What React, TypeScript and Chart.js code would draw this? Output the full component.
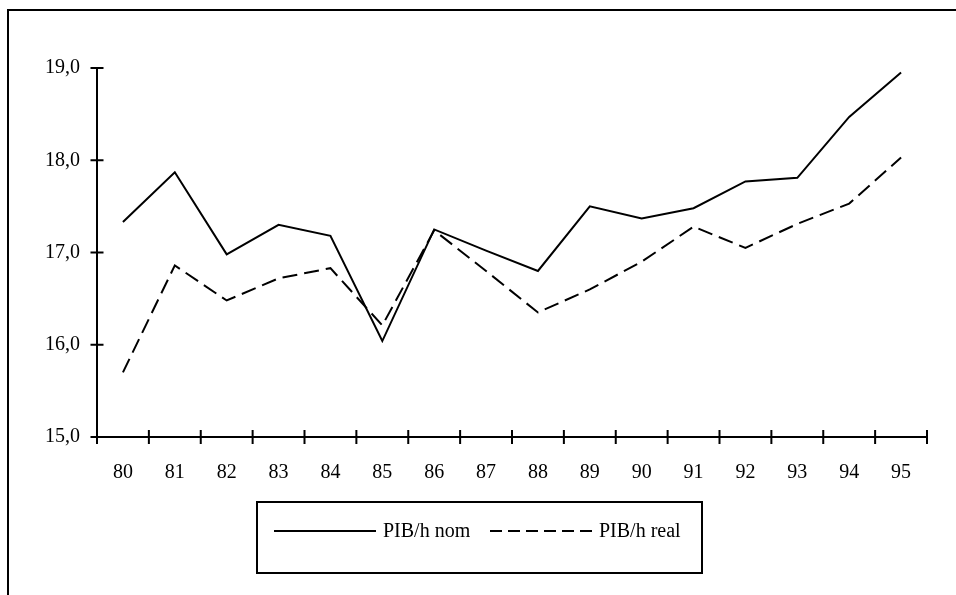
import { useEffect, useRef } from "react";
import { Chart, registerables } from "chart.js";

Chart.register(...registerables);

const years = ["80", "81", "82", "83", "84", "85", "86", "87", "88", "89", "90", "91", "92", "93", "94", "95"];
const pibNom = [17.33, 17.87, 16.98, 17.3, 17.18, 16.04, 17.25, 17.02, 16.8, 17.5, 17.37, 17.48, 17.77, 17.81, 18.47, 18.95];
const pibReal = [15.7, 16.86, 16.48, 16.72, 16.83, 16.21, 17.24, 16.8, 16.35, 16.6, 16.9, 17.28, 17.05, 17.31, 17.53, 18.03];
const yTicks = [15, 16, 17, 18, 19];
const seriesLabels = ["PIB/h nom", "PIB/h real"];

const FONT = '"Liberation Serif", "Times New Roman", serif';

export default function App() {
  const ref = useRef<HTMLCanvasElement | null>(null);

  useEffect(() => {
    if (!ref.current) return;

    const framePlugin = {
      id: "frame",
      beforeDraw(chart: any) {
        const ctx = chart.ctx;
        ctx.save();
        ctx.fillStyle = "#fff";
        ctx.fillRect(0, 0, chart.width, chart.height);
        ctx.strokeStyle = "#000";
        ctx.lineWidth = 2;
        ctx.beginPath();
        ctx.moveTo(7, 10);
        ctx.lineTo(chart.width, 10);
        ctx.moveTo(8, 9);
        ctx.lineTo(8, chart.height);
        ctx.stroke();
        ctx.restore();
      },
    };

    const axesPlugin = {
      id: "axes",
      beforeDatasetsDraw(chart: any) {
        const { ctx, chartArea, scales } = chart;
        const xs = scales.x;
        const ys = scales.y;
        ctx.save();
        ctx.strokeStyle = "#000";
        ctx.lineWidth = 2;
        ctx.beginPath();
        const x0 = chartArea.left;
        const yTop = ys.getPixelForValue(yTicks[yTicks.length - 1]);
        const yBot = ys.getPixelForValue(yTicks[0]);
        ctx.moveTo(x0, yTop);
        ctx.lineTo(x0, yBot);
        yTicks.forEach((v) => {
          const py = ys.getPixelForValue(v);
          ctx.moveTo(x0 - 6.5, py);
          ctx.lineTo(x0 + 6.5, py);
        });
        ctx.moveTo(xs.left, yBot);
        ctx.lineTo(xs.right, yBot);
        const n = years.length;
        for (let k = 0; k <= n; k++) {
          const px = xs.left + (k * xs.width) / n;
          ctx.moveTo(px, yBot - 7);
          ctx.lineTo(px, yBot + 7);
        }
        ctx.stroke();
        ctx.restore();
      },
    };

    const legendPlugin = {
      id: "boxLegend",
      afterDraw(chart: any) {
        const ctx = chart.ctx;
        ctx.save();
        ctx.strokeStyle = "#000";
        ctx.lineWidth = 2;
        ctx.strokeRect(257, 502, 445, 71);
        const ly = 531;
        const starts = [274, 490];
        chart.data.datasets.forEach((ds: any, i: number) => {
          const sx = starts[i];
          ctx.beginPath();
          ctx.setLineDash(ds.borderDash ? [12, 6] : []);
          ctx.lineWidth = 2;
          ctx.moveTo(sx, ly);
          ctx.lineTo(sx + 102, ly);
          ctx.stroke();
          ctx.setLineDash([]);
          ctx.fillStyle = "#000";
          ctx.font = `20px ${FONT}`;
          ctx.textBaseline = "middle";
          ctx.textAlign = "left";
          ctx.fillText(ds.label, sx + 109, ly + 1);
        });
        ctx.restore();
      },
    };

    const chart = new Chart(ref.current, {
      type: "line",
      data: {
        labels: years,
        datasets: [
          {
            label: seriesLabels[0],
            data: pibNom,
            borderColor: "#000",
            borderWidth: 2,
            pointRadius: 0,
            tension: 0,
            fill: false,
          },
          {
            label: seriesLabels[1],
            data: pibReal,
            borderColor: "#000",
            borderWidth: 2,
            borderDash: [15, 7],
            pointRadius: 0,
            tension: 0,
            fill: false,
          },
        ],
      },
      options: {
        animation: false,
        responsive: false,
        devicePixelRatio: 1,
        layout: { padding: { left: 0, top: 68, right: 29, bottom: 0 } },
        plugins: {
          legend: { display: false },
          tooltip: { enabled: false },
        },
        scales: {
          x: {
            type: "category",
            offset: true,
            grid: { display: false, drawTicks: false },
            border: { display: false },
            ticks: {
              color: "#000",
              font: { family: FONT, size: 20 },
              padding: 24,
              autoSkip: false,
              maxRotation: 0,
            },
            afterFit(scale: any) {
              scale.height = 158;
            },
          },
          y: {
            min: 15,
            max: 19,
            grid: { display: false, drawTicks: false },
            border: { display: false },
            ticks: {
              stepSize: 1,
              color: "#000",
              font: { family: FONT, size: 20 },
              padding: 17,
              callback: (v: any) => Number(v).toFixed(1).replace(".", ","),
            },
            afterFit(scale: any) {
              scale.width = 97;
            },
          },
        },
      },
      plugins: [framePlugin, axesPlugin, legendPlugin],
    });

    return () => chart.destroy();
  }, []);

  return (
    <div style={{ position: "absolute", left: 0, top: 0, width: 956, height: 595 }}>
      <canvas ref={ref} width={956} height={595} style={{ display: "block" }} />
    </div>
  );
}
